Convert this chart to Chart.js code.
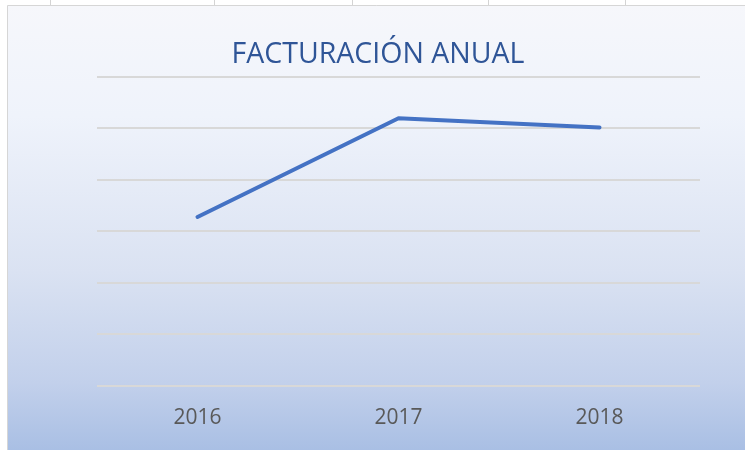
<!DOCTYPE html>
<html>
<head>
<meta charset="utf-8">
<script src="https://cdn.jsdelivr.net/npm/chart.js@4"></script>
<style>
  html, body { margin: 0; padding: 0; background: #fff; }
  #wrap { width: 745px; height: 450px; position: relative; }
</style>
</head>
<body>
<div id="wrap"><canvas id="factChart"></canvas></div>
<script>
// ── Data ── //
const years = ['2016', '2017', '2018'];
const facturacion = [32800, 52000, 50200];
const yMin = 0;
const yMax = 60000;
const yStep = 10000;

// ── Background: sheet cells behind + gradient chart box ── //
const chartBackground = {
  id: 'chartBackground',
  beforeDraw(chart) {
    const c = chart.ctx;
    const w = chart.width, h = chart.height;
    c.save();
    c.fillStyle = '#ffffff';
    c.fillRect(0, 0, w, h);

    // spreadsheet column lines peeking above the chart
    c.strokeStyle = '#d4d4d4';
    c.lineWidth = 1;
    [50, 214, 352, 488, 625].forEach(x => {
      c.beginPath();
      c.moveTo(x + 0.5, 0);
      c.lineTo(x + 0.5, 5);
      c.stroke();
    });

    const g = c.createLinearGradient(0, 5, 0, h);
    g.addColorStop(0, '#f6f7fb');
    g.addColorStop(0.25, '#eff3fb');
    g.addColorStop(0.6, '#dae2f2');
    g.addColorStop(0.85, '#c2d0eb');
    g.addColorStop(1, '#a9bfe4');
    c.fillStyle = g;
    c.fillRect(7, 5, w - 7, h - 5);

    c.strokeStyle = '#d6d6d6';
    c.beginPath();
    c.moveTo(7.5, h);
    c.lineTo(7.5, 5.5);
    c.lineTo(w, 5.5);
    c.stroke();
    c.restore();
  }
};

const ctx = document.getElementById('factChart');
new Chart(ctx, {
  type: 'line',
  data: {
    labels: years,
    datasets: [{
      label: 'Facturación',
      data: facturacion,
      borderColor: '#4472c4',
      borderWidth: 4,
      borderCapStyle: 'round',
      borderJoinStyle: 'round',
      pointRadius: 0,
      tension: 0,
      fill: false,
    }],
  },
  options: {
    responsive: true,
    maintainAspectRatio: false,
    animation: false,
    layout: { padding: { left: 56, right: 45, top: 38, bottom: 7 } },
    scales: {
      x: {
        offset: true,
        grid: { display: false },
        border: { display: false },
        ticks: {
          color: '#595959',
          padding: 12,
          font: { family: 'Open Sans', size: 21 },
        },
      },
      y: {
        min: yMin,
        max: yMax,
        grid: { color: '#d8d8d8', lineWidth: 2, drawTicks: false },
        border: { display: false },
        ticks: { display: false, stepSize: yStep },
        afterFit(scale) { scale.width = 41; },
      },
    },
    plugins: {
      legend: { display: false },
      tooltip: { enabled: false },
      title: {
        display: true,
        text: 'FACTURACIÓN ANUAL',
        color: '#2f5597',
        font: { family: 'Open Sans', size: 28.5, weight: 'normal' },
        padding: { top: 0, bottom: 4.8 },
      },
    },
  },
  plugins: [chartBackground],
});
</script>
</body>
</html>
